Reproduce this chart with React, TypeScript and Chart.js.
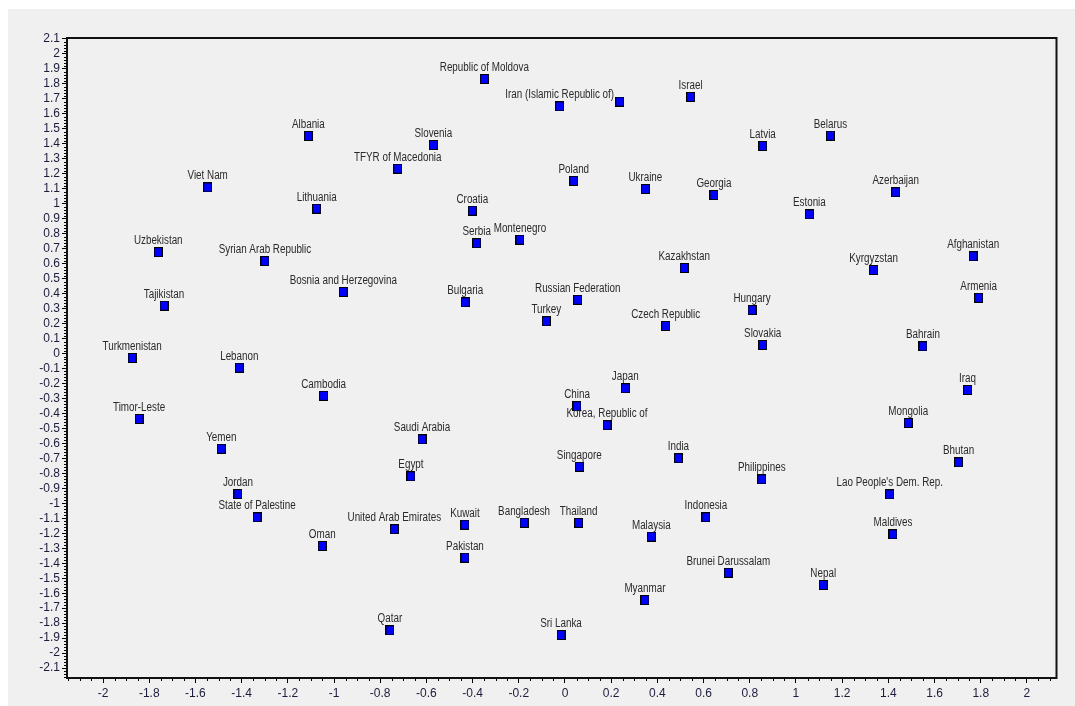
import React, { useEffect, useRef } from "react";
import { Chart, registerables } from "chart.js";

Chart.register(...registerables);

const countries = [
  "Republic of Moldova", "Iran (Islamic Republic of)", "", "Israel", "Albania", "Slovenia",
  "TFYR of Macedonia", "Latvia", "Belarus", "Viet Nam", "Poland", "Ukraine", "Georgia",
  "Azerbaijan", "Lithuania", "Croatia", "Estonia", "Serbia", "Montenegro", "Uzbekistan",
  "Syrian Arab Republic", "Afghanistan", "Kazakhstan", "Kyrgyzstan", "Bosnia and Herzegovina",
  "Bulgaria", "Tajikistan", "Russian Federation", "Armenia", "Hungary", "Turkey",
  "Czech Republic", "Slovakia", "Bahrain", "Turkmenistan", "Lebanon", "Cambodia", "China",
  "Japan", "Iraq", "Timor-Leste", "Korea, Republic of", "Mongolia", "Saudi Arabia", "Yemen",
  "India", "Bhutan", "Singapore", "Egypt", "Philippines", "Jordan", "Lao People's Dem. Rep.",
  "State of Palestine", "Indonesia", "United Arab Emirates", "Kuwait", "Bangladesh",
  "Thailand", "Malaysia", "Maldives", "Oman", "Pakistan", "Brunei Darussalam", "Nepal",
  "Myanmar", "Qatar", "Sri Lanka",
];

const xValues = [
  -0.349, -0.023, 0.237, 0.544, -1.111, -0.570,
  -0.724, 0.856, 1.149, -1.547, 0.038, 0.348, 0.645,
  1.432, -1.075, -0.401, 1.058, -0.382, -0.195, -1.761,
  -1.299, 1.767, 0.516, 1.336, -0.960,
  -0.432, -1.736, 0.055, 1.791, 0.810, -0.081,
  0.436, 0.856, 1.550, -1.874, -1.410, -1.045, 0.052,
  0.261, 1.743, -1.844, 0.182, 1.486, -0.619, -1.488,
  0.491, 1.704, 0.062, -0.667, 0.852, -1.416, 1.406,
  -1.333, 0.610, -0.739, -0.433, -0.177,
  0.059, 0.374, 1.420, -1.051, -0.433, 0.707, 1.118,
  0.346, -0.758, -0.017,
];

const yValues = [
  1.832, 1.650, 1.681, 1.712, 1.452, 1.392,
  1.234, 1.385, 1.454, 1.109, 1.152, 1.098, 1.058,
  1.076, 0.967, 0.953, 0.929, 0.736, 0.760, 0.676,
  0.617, 0.649, 0.571, 0.557, 0.411,
  0.342, 0.319, 0.359, 0.372, 0.290, 0.215,
  0.184, 0.057, 0.048, -0.030, -0.095, -0.282, -0.352,
  -0.232, -0.244, -0.437, -0.479, -0.464, -0.573, -0.636,
  -0.699, -0.726, -0.756, -0.820, -0.840, -0.938, -0.940,
  -1.093, -1.093, -1.173, -1.143, -1.130,
  -1.130, -1.222, -1.207, -1.285, -1.363, -1.463, -1.545,
  -1.646, -1.848, -1.879,
];

const xTickValues = [-2, -1.8, -1.6, -1.4, -1.2, -1, -0.8, -0.6, -0.4, -0.2, 0, 0.2, 0.4, 0.6, 0.8, 1, 1.2, 1.4, 1.6, 1.8, 2];
const yTickValues = [
  2.1, 2, 1.9, 1.8, 1.7, 1.6, 1.5, 1.4, 1.3, 1.2, 1.1, 1, 0.9, 0.8, 0.7, 0.6, 0.5, 0.4, 0.3, 0.2, 0.1, 0,
  -0.1, -0.2, -0.3, -0.4, -0.5, -0.6, -0.7, -0.8, -0.9, -1, -1.1, -1.2, -1.3, -1.4, -1.5, -1.6, -1.7,
  -1.8, -1.9, -2, -2.1,
];

const X_MIN = -2.156;
const X_MAX = 2.128;
const Y_MIN = -2.166;
const Y_MAX = 2.106;

const BG = "#f0f0f0";
const TICK_FONT_FAMILY = "'Liberation Sans Narrow', 'Liberation Sans', Arial, sans-serif";

function fmt(v: number): string {
  const r = Math.round(v * 10) / 10;
  return String(r);
}

function makeMarker(): HTMLCanvasElement {
  const c = document.createElement("canvas");
  c.width = 9;
  c.height = 10;
  const g = c.getContext("2d")!;
  g.fillStyle = "#000000";
  g.fillRect(0, 0, 9, 10);
  g.fillStyle = "#0000ff";
  g.fillRect(1, 1, 7, 8);
  return c;
}

const framePlugin = {
  id: "frameAndMinor",
  afterDraw(chart: any) {
    const { ctx, chartArea, scales } = chart;
    const xs = scales.x;
    const ys = scales.y;
    ctx.save();
    // minor ticks on x
    ctx.strokeStyle = "#000";
    ctx.lineWidth = 1;
    ctx.beginPath();
    for (let i = -43; i <= 42; i++) {
      const v = i * 0.05;
      if (i % 4 === 0) continue;
      if (v < X_MIN || v > X_MAX) continue;
      const px = Math.round(xs.getPixelForValue(v)) + 0.5;
      ctx.moveTo(px, chartArea.bottom);
      ctx.lineTo(px, chartArea.bottom + 3);
    }
    for (let i = -108; i <= 105; i++) {
      const v = i * 0.02;
      if (i % 5 === 0) continue;
      if (v < Y_MIN || v > Y_MAX) continue;
      const py = Math.round(ys.getPixelForValue(v)) + 0.5;
      ctx.moveTo(chartArea.left - 3, py);
      ctx.lineTo(chartArea.left, py);
    }
    ctx.stroke();
    // frame
    ctx.lineWidth = 2;
    ctx.strokeStyle = "#111";
    ctx.strokeRect(chartArea.left, chartArea.top, chartArea.right - chartArea.left, chartArea.bottom - chartArea.top);
    ctx.restore();
  },
};

const labelPlugin = {
  id: "pointLabels",
  afterDatasetsDraw(chart: any) {
    const { ctx } = chart;
    const meta = chart.getDatasetMeta(0);
    ctx.save();
    ctx.font = "12px 'Liberation Sans', Arial, sans-serif";
    ctx.fillStyle = "#2a2a2a";
    ctx.textAlign = "center";
    ctx.textBaseline = "alphabetic";
    meta.data.forEach((el: any, i: number) => {
      const label = countries[i];
      if (!label) return;
      ctx.save();
      ctx.translate(el.x, el.y - 8);
      ctx.scale(0.82, 1);
      ctx.fillText(label, 0, 0);
      ctx.restore();
    });
    ctx.restore();
  },
};

const bgPlugin = {
  id: "bg",
  beforeDraw(chart: any) {
    const { ctx, width, height } = chart;
    ctx.save();
    ctx.fillStyle = BG;
    ctx.fillRect(0, 0, width, height);
    ctx.restore();
  },
};

export default function App() {
  const ref = useRef<HTMLCanvasElement | null>(null);

  useEffect(() => {
    if (!ref.current) return;
    const marker = makeMarker();
    const data = countries.map((_, i) => ({ x: xValues[i], y: yValues[i] }));
    const chart = new Chart(ref.current, {
      type: "scatter",
      data: {
        datasets: [
          {
            data,
            pointStyle: marker as any,
            pointRadius: 5,
            pointHoverRadius: 5,
            backgroundColor: "#0000ff",
            borderColor: "#000",
          },
        ],
      },
      options: {
        responsive: false,
        animation: false,
        devicePixelRatio: 1,
        events: [],
        layout: { padding: { left: 0, top: 29, right: 18.5, bottom: 0 } },
        plugins: {
          legend: { display: false },
          tooltip: { enabled: false },
        },
        scales: {
          x: {
            type: "linear",
            min: X_MIN,
            max: X_MAX,
            afterBuildTicks: (scale: any) => {
              scale.ticks = xTickValues.map((v) => ({ value: v }));
            },
            afterFit: (scale: any) => {
              scale.height = 28;
            },
            grid: {
              display: true,
              drawOnChartArea: false,
              drawTicks: true,
              tickLength: 5,
              tickColor: "#000",
              tickWidth: 1,
            },
            border: { display: true, color: "#111", width: 2 },
            ticks: {
              autoSkip: false,
              maxRotation: 0,
              padding: 3,
              color: "#1c1c3c",
              font: { family: TICK_FONT_FAMILY, size: 12 },
              callback: (v: any) => fmt(Number(v)),
            },
          },
          y: {
            type: "linear",
            min: Y_MIN,
            max: Y_MAX,
            afterBuildTicks: (scale: any) => {
              scale.ticks = yTickValues.map((v) => ({ value: v }));
            },
            afterFit: (scale: any) => {
              scale.width = 59;
            },
            grid: {
              display: true,
              drawOnChartArea: false,
              drawTicks: true,
              tickLength: 5,
              tickColor: "#000",
              tickWidth: 1,
            },
            border: { display: true, color: "#111", width: 2 },
            ticks: {
              autoSkip: false,
              padding: 2,
              color: "#1c1c3c",
              font: { family: TICK_FONT_FAMILY, size: 12 },
              callback: (v: any) => fmt(Number(v)),
            },
          },
        },
      },
      plugins: [bgPlugin, framePlugin, labelPlugin],
    });
    return () => chart.destroy();
  }, []);

  return (
    <div
      style={{
        position: "fixed",
        left: 8,
        top: 9,
        width: 1067,
        height: 697,
        background: BG,
      }}
    >
      <canvas ref={ref} width={1067} height={697} style={{ display: "block" }} />
    </div>
  );
}
